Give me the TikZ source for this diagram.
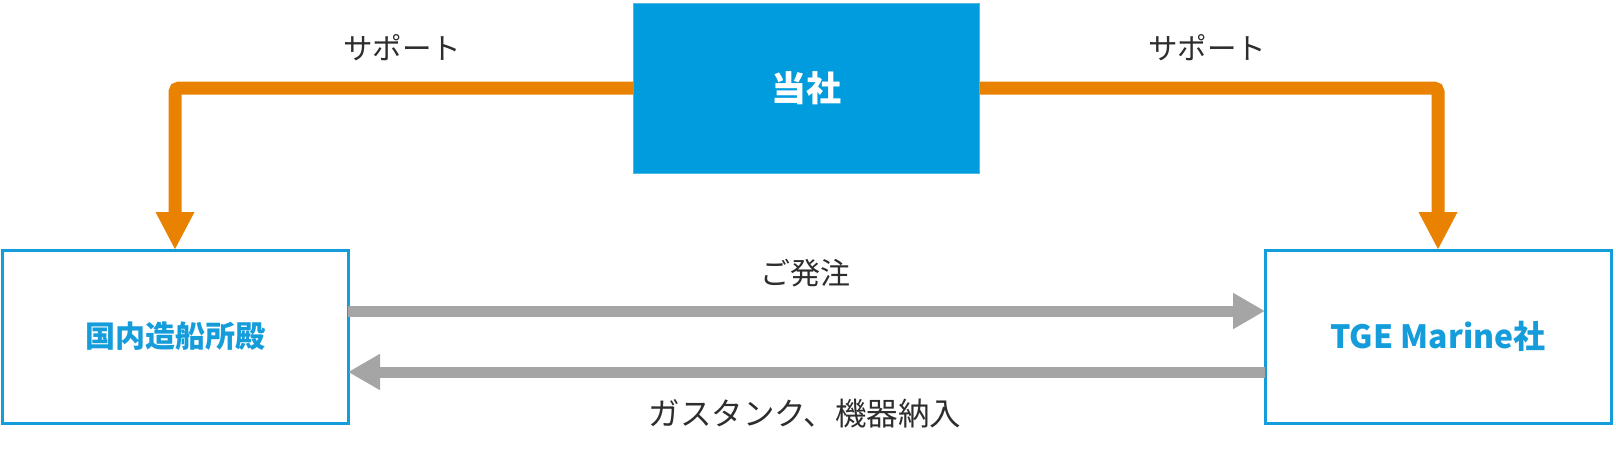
\documentclass[tikz,border=0pt]{standalone}
\usepackage{fontspec}
\setmainfont{Noto Sans CJK JP}
\usetikzlibrary{arrows.meta}
\definecolor{boxblue}{RGB}{0,156,221}
\definecolor{lineblue}{RGB}{20,156,219}
\definecolor{orangeln}{RGB}{232,130,0}
\definecolor{grayln}{RGB}{165,165,165}
\definecolor{txt}{RGB}{45,45,45}
\tikzset{
  party/.style={draw=lineblue, line width=3pt, fill=white, minimum width=346pt, minimum height=173pt, inner sep=0pt, outer sep=0pt, text=lineblue, font=\fontsize{30pt}{34pt}\selectfont\bfseries},
  company/.style={fill=boxblue, draw=boxblue!70!white, line width=1pt, minimum width=346pt, minimum height=170pt, inner sep=0pt, outer sep=0pt, text=white, font=\fontsize{35pt}{38pt}\selectfont\bfseries},
  support/.style={draw=orangeln, line width=13pt, rounded corners=4pt, -{Triangle[length=38pt,width=36pt]}},
  flow/.style={draw=grayln, line width=11pt, -{Triangle[length=32pt,width=34pt]}},
  lbl/.style={text=txt, font=\fontsize{29.5pt}{32pt}\selectfont, inner sep=0pt}
}
\begin{document}
\begin{tikzpicture}[x=1pt,y=-1pt]
\useasboundingbox (0,0) rectangle (1616,455);
\node[company] (top) at (806.5,88) {当社};
\node[party] (left) at (175,336.5) {国内造船所殿};
\node[party] (right) at (1438,336.5) {\fontsize{32pt}{34pt}\selectfont TGE Marine社};
\coordinate (lc) at (left.north |- top.west);
\coordinate (rc) at (right.north |- top.east);
\draw[support] (top.west) -- (lc) -- (left.north);
\draw[support] (top.east) -- (rc) -- (right.north);
\coordinate (o1) at (left.east |- 0,311);
\coordinate (o2) at (right.west |- 0,311);
\coordinate (d1) at (right.west |- 0,372);
\coordinate (d2) at (left.east |- 0,372);
\draw[flow] (o1) -- (o2);
\draw[flow] (d1) -- (d2);
\node[lbl] (s1) at (402,48) {サポート};
\node[lbl] (s2) at (1207,48) {サポート};
\node[lbl, font=\fontsize{30pt}{32pt}\selectfont] (order) at (805,273) {ご発注};
\node[lbl, font=\fontsize{31.5pt}{34pt}\selectfont] (deliver) at (805,414) {ガスタンク、機器納入};
\end{tikzpicture}
\end{document}
